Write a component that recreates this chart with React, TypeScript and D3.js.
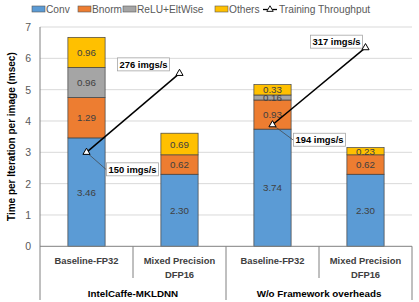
import * as d3 from 'd3'

const WIDTH = 419
const HEIGHT = 302
const MARGIN = { top: 27, right: 7, bottom: 56, left: 40 }

const categories = [['Baseline-FP32'], ['Mixed Precision', 'DFP16'], ['Baseline-FP32'], ['Mixed Precision', 'DFP16']]
const groups = ['IntelCaffe-MKLDNN', 'W/o Framework overheads']

const seriesNames = ['Conv', 'Bnorm', 'ReLU+EltWise', 'Others']
const seriesColors = ['#5B9BD5', '#ED7D31', '#A5A5A5', '#FFC000']
const conv = [3.46, 2.30, 3.74, 2.30]
const bnorm = [1.29, 0.62, 0.93, 0.62]
const relu = [0.96, 0, 0.16, 0]
const others = [0.96, 0.69, 0.33, 0.23]

const throughput = [150, 276, 194, 317]
// line is split per group
const throughputSegments = [[0, 1], [2, 3]]
// label box placement relative to the point: [dx, dy, anchor side]
const labelOffsets: [number, number, 'left' | 'right'][] = [
  [20, 17, 'left'],
  [-10, -9, 'right'],
  [21, 15, 'left'],
  [-3, -6, 'right'],
]

const yTicks = [0, 1, 2, 3, 4, 5, 6, 7]

const FONT = '"Liberation Sans", Arial, sans-serif'

export default function App() {
  const innerW = WIDTH - MARGIN.left - MARGIN.right
  const x0 = MARGIN.left
  const x1 = MARGIN.left + innerW
  const yBottom = HEIGHT - MARGIN.bottom + 0.3

  const xScale = d3.scaleBand<number>()
    .domain(categories.map((_, i) => i))
    .range([x0, x1])
    .paddingInner(0.6)
    .paddingOuter(0.3)

  const yScale = d3.scaleLinear().domain([0, 7]).range([yBottom, MARGIN.top])
  const y2Scale = d3.scaleLinear().domain([0, 350]).range([yBottom, MARGIN.top])

  const rows = categories.map((_, i) => ({ i, conv: conv[i], bnorm: bnorm[i], relu: relu[i], others: others[i] }))
  const stack = d3.stack<any>().keys(['conv', 'bnorm', 'relu', 'others'])(rows)

  const step = xScale.step()
  const cx = (i: number) => (xScale(i) as number) + xScale.bandwidth() / 2
  const line = d3.line<number>().x(i => cx(i)).y(i => y2Scale(throughput[i]))

  const legendX = [32, 78, 123, 215]

  return (
    <svg width={WIDTH} height={HEIGHT} style={{ position: 'absolute', left: 0, top: 0, background: '#fff' }} fontFamily={FONT}>
      {/* Legend */}
      {seriesNames.map((name, k) => (
        <g key={name}>
          <rect x={legendX[k]} y={6} width={13} height={6} fill={seriesColors[k]} stroke="#595959" strokeWidth={0.6} />
          <text x={legendX[k] + 14} y={13} fontSize={10.2} fill="#595959">{name}</text>
        </g>
      ))}
      <line x1={263} x2={277} y1={9.5} y2={9.5} stroke="#000" strokeWidth={1.3} />
      <path d={d3.symbol(d3.symbolTriangle, 18)() as string} transform="translate(270,9.5)" fill="#fff" stroke="#000" strokeWidth={0.9} />
      <text x={279} y={13} fontSize={10.2} fill="#595959">Training Throughput</text>

      {/* Gridlines */}
      {yTicks.filter(t => t > 0).map(t => (
        <line key={t} x1={x0} x2={x1} y1={yScale(t)} y2={yScale(t)} stroke="#D9D9D9" strokeWidth={1} />
      ))}

      {/* Y tick labels */}
      {yTicks.map(t => (
        <text key={t} x={x0 - 9} y={yScale(t) + 4} fontSize={10.5} textAnchor="end" fill="#595959">{t}</text>
      ))}
      <text transform={`translate(15,${(yScale(0) + yScale(7)) / 2}) rotate(-90)`} textAnchor="middle" fontSize={10} fontWeight="bold" fill="#000">
        Time per Iteration per image (msec)
      </text>

      {/* Bars */}
      {stack.map((layer, k) => layer.map((d, i) => {
        const v = d[1] - d[0]
        if (v <= 0) return null
        const yt = yScale(d[1])
        const yb = yScale(d[0])
        return (
          <g key={`${k}-${i}`}>
            <rect x={xScale(i)} y={yt} width={xScale.bandwidth()} height={yb - yt} fill={seriesColors[k]} stroke="#404040" strokeWidth={0.7} />
            <text x={cx(i)} y={(yt + yb) / 2 + 3.5} textAnchor="middle" fontSize={9.8} fill="#404040">{v.toFixed(2)}</text>
          </g>
        )
      }))}

      {/* Axis lines and category separators */}
      <line x1={x0} x2={x0} y1={MARGIN.top} y2={HEIGHT - 2} stroke="#808080" strokeWidth={1} />
      <line x1={x0} x2={x1} y1={yBottom} y2={yBottom} stroke="#808080" strokeWidth={1} />
      {categories.map((_, i) => {
        const xs = x0 + step * (i + 1)
        const full = i % 2 === 1
        return <line key={i} x1={xs} x2={xs} y1={yBottom} y2={full ? HEIGHT - 2 : 278} stroke="#808080" strokeWidth={1} />
      })}

      {/* Category labels */}
      {categories.map((lines, i) => (
        <text key={i} x={x0 + step * (i + 0.5)} y={264} textAnchor="middle" fontSize={9.4} fontWeight="bold" fill="#404040">
          {lines.map((l, j) => <tspan key={j} x={x0 + step * (i + 0.5)} dy={j === 0 ? 0 : 13.5}>{l}</tspan>)}
        </text>
      ))}
      {groups.map((g, j) => (
        <text key={g} x={x0 + step * (2 * j + 1)} y={297} textAnchor="middle" fontSize={9.8} fontWeight="bold" fill="#000">{g}</text>
      ))}

      {/* Throughput line */}
      {throughputSegments.map((seg, s) => (
        <path key={s} d={line(seg) as string} fill="none" stroke="#000" strokeWidth={1.5} />
      ))}

      {/* Leader lines and labels */}
      {throughput.map((v, i) => {
        const px = cx(i)
        const py = y2Scale(v)
        const [dx, dy, side] = labelOffsets[i]
        const bw = 52
        const bh = 13
        const bx = side === 'left' ? px + dx : px + dx - bw
        const by = py + dy - bh / 2
        return (
          <g key={i}>
            {side === 'left' && (
              <line x1={px} y1={py} x2={bx} y2={by + 7} stroke="#404040" strokeWidth={0.7} />
            )}
            <rect x={bx} y={by} width={bw} height={bh} fill="#fff" stroke="#A6A6A6" strokeWidth={0.8} />
            <text x={bx + bw / 2} y={by + 10} textAnchor="middle" fontSize={9.4} fontWeight="bold" fill="#000">{v} imgs/s</text>
          </g>
        )
      })}

      {/* Markers */}
      {throughput.map((v, i) => (
        <path key={i} d={d3.symbol(d3.symbolTriangle, 22)() as string} transform={`translate(${cx(i)},${y2Scale(v)})`} fill="#fff" stroke="#000" strokeWidth={1} />
      ))}
    </svg>
  )
}
